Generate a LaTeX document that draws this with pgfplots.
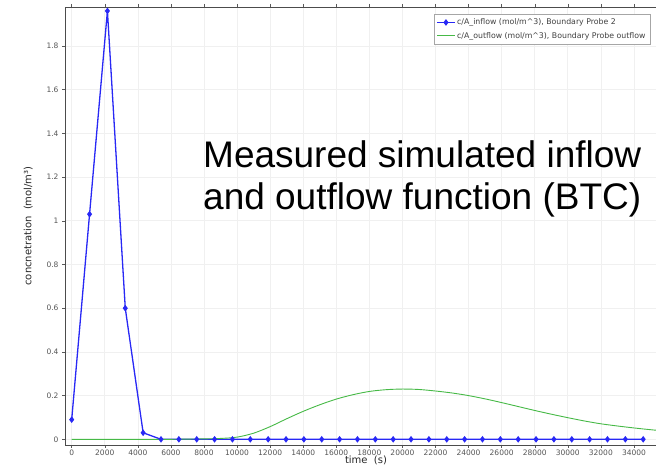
\documentclass[border=0pt]{standalone}
\usepackage{pgfplots}
\pgfplotsset{compat=1.18}
\usepackage{fontspec}
\setmainfont{DejaVu Sans}
\newfontfamily\arialf{Liberation Sans}

\definecolor{inblue}{RGB}{40,40,245}
\definecolor{outgreen}{RGB}{70,185,70}
\definecolor{ticktext}{RGB}{85,85,85}

\begin{document}
\begin{tikzpicture}
\useasboundingbox (0,0) rectangle (656pt,465pt);
\clip (0,0) rectangle (656pt,465pt);
\begin{axis}[
  at={(65pt,20pt)}, anchor=south west,
  scale only axis,
  width=602pt, height=438pt,
  xmin=-405, xmax=36000,
  ymin=-0.026, ymax=1.978,
  xtick={0,2000,...,34000},
  ytick={0,0.2,...,1.8},
  scaled x ticks=false,
  /pgf/number format/1000 sep={},
  /pgf/number format/assume math mode=true,
  tick label style={font=\fontsize{7.5}{9}\selectfont, text=ticktext},
  xticklabel style={yshift=2pt},
  xtick pos=both, ytick pos=left,
  tick align=outside,
  major tick length=3pt,
  tick style={gray!70!black, thin},
  grid=major,
  major grid style={gray!12, line width=0.6pt},
  axis line style={gray!60!black, line width=0.6pt},
  xlabel={time\ \ (s)},
  ylabel={concnetration\ \ (mol/m³)},
  xlabel style={font=\fontsize{10}{12}\selectfont, text=black!85, yshift=6pt},
  ylabel style={font=\fontsize{10}{12}\selectfont, text=black!85, yshift=7pt},
  legend style={at={(0.613,0.984)}, anchor=north west,
    font=\fontsize{7.8}{10}\selectfont, text=black!75,
    draw=gray!70, line width=0.5pt, inner sep=2.5pt,
    row sep=2pt, cells={anchor=west}},
  legend cell align=left,
]
% inflow concentration, sampled every 1080 s
\addplot[color=inblue, line width=1.3pt, mark=diamond*, mark size=2.3pt,
  mark options={fill=inblue}] coordinates {
  (0,0.09) (1080,1.03) (2160,1.96) (3240,0.60) (4320,0.03) (5400,0.0)
  (6480,0) (7560,0) (8640,0) (9720,0) (10800,0) (11880,0) (12960,0)
  (14040,0) (15120,0) (16200,0) (17280,0) (18360,0) (19440,0) (20520,0)
  (21600,0) (22680,0) (23760,0) (24840,0) (25920,0) (27000,0) (28080,0)
  (29160,0) (30240,0) (31320,0) (32400,0) (33480,0) (34560,0)
};
\addlegendentry{c/A\_inflow (mol/m\textasciicircum 3), Boundary Probe 2}
% outflow breakthrough curve
\addplot[color=outgreen, line width=0.9pt, smooth] coordinates {
  (0,0) (2000,0) (4000,0) (6000,0) (7000,0.001) (8000,0.002) (9000,0.004)
  (10000,0.010) (11000,0.028) (12000,0.058) (13000,0.094) (14000,0.128)
  (15000,0.158) (16000,0.184) (17000,0.204) (18000,0.219) (19000,0.227)
  (20000,0.230) (21000,0.228) (22000,0.221) (23000,0.212) (24000,0.200)
  (25000,0.185) (26000,0.168) (27000,0.150) (28000,0.132) (29000,0.115)
  (30000,0.099) (31000,0.084) (32000,0.071) (33000,0.061) (34000,0.052)
  (35000,0.044) (36000,0.037)
};
\addlegendentry{c/A\_outflow (mol/m\textasciicircum 3), Boundary Probe outflow}
\end{axis}
\node[anchor=base west, font=\arialf\fontsize{37}{44}\selectfont, inner sep=0pt]
  at (203pt,297pt) {Measured simulated inflow};
\node[anchor=base west, font=\arialf\fontsize{37}{44}\selectfont, inner sep=0pt]
  at (203pt,255pt) {and outflow function (BTC)};
\end{tikzpicture}
\end{document}
